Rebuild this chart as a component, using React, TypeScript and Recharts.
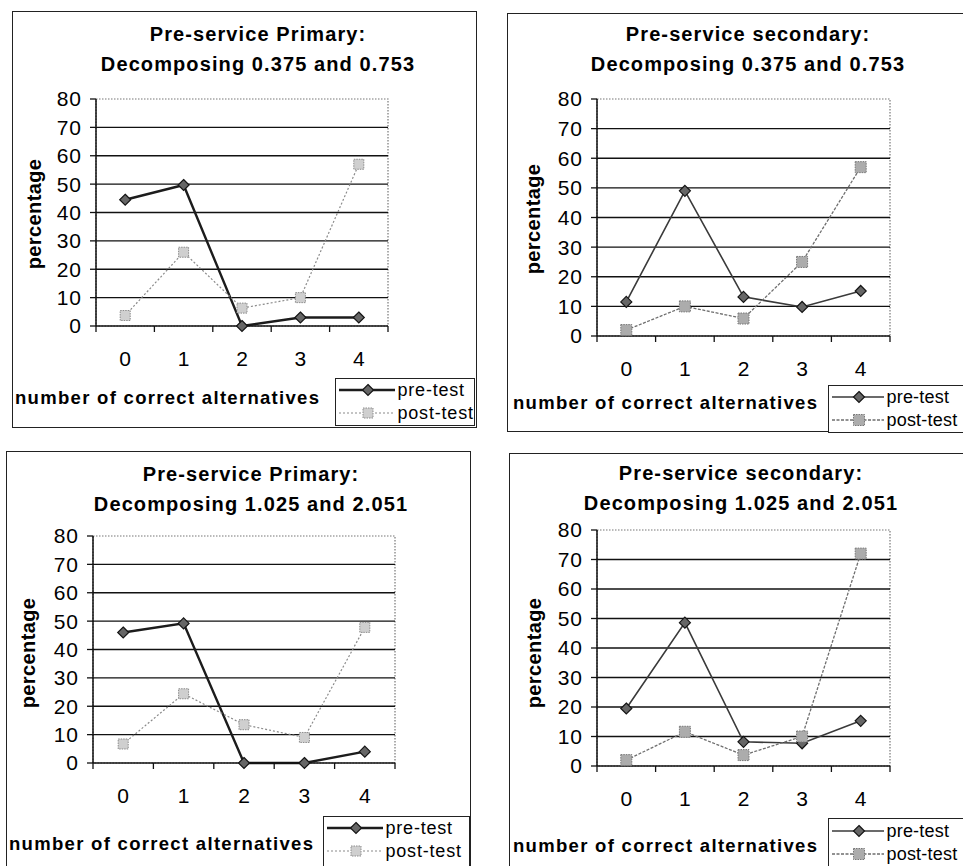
import React from "react";
import {
  Legend,
  Line,
  LineChart,
  ReferenceArea,
  ReferenceLine,
  XAxis,
  YAxis,
} from "recharts";

const FONT = "Arial, 'Liberation Sans', sans-serif";

// number of correct alternatives
const CATEGORIES = ["0", "1", "2", "3", "4"];
const Y_TICKS = [0, 10, 20, 30, 40, 50, 60, 70, 80];
const GRID_VALUES = [10, 20, 30, 40, 50, 60, 70];
const SERIES_NAMES = ["pre-test", "post-test"];

const TITLE_PRIMARY_A = ["Pre-service Primary:", "Decomposing 0.375 and 0.753"];
const TITLE_SECONDARY_A = ["Pre-service secondary:", "Decomposing 0.375 and 0.753"];
const TITLE_PRIMARY_B = ["Pre-service Primary:", "Decomposing 1.025 and 2.051"];
const TITLE_SECONDARY_B = ["Pre-service secondary:", "Decomposing 1.025 and 2.051"];

// percentages
const PRIMARY_A_PRE = [44.5, 49.7, 0, 3, 3];
const PRIMARY_A_POST = [3.7, 26, 6.3, 10, 57];
const SECONDARY_A_PRE = [11.5, 49, 13.2, 9.8, 15.2];
const SECONDARY_A_POST = [2, 10, 5.9, 25, 57];
const PRIMARY_B_PRE = [46, 49.2, 0, 0, 4];
const PRIMARY_B_POST = [6.7, 24.4, 13.5, 9, 47.8];
const SECONDARY_B_PRE = [19.5, 48.6, 8.2, 7.7, 15.3];
const SECONDARY_B_POST = [2, 11.6, 3.7, 10, 72];

const X_TICKS = CATEGORIES.flatMap((_, i) => (i === 0 ? [i - 0.5, i, i + 0.5] : [i, i + 0.5]));

type Box = { x: number; y: number; w: number; h: number };
type PanelProps = {
  title: string[];
  pre: number[];
  post: number[];
  heavy: boolean;
  box: Box;
  plot: { l: number; t: number; r: number; b: number };
  titleX: number;
  titleY: number;
  yLabel: { x: number; y: number };
  xLabel: { x: number; y: number };
  legend: { x: number; y: number; w: number; h: number; rowTop: number; sample: number; spacing: number };
};

const YW = 60;
const XH = 50;

function styleFor(heavy: boolean) {
  return heavy
    ? {
        pre: { stroke: "#1c1c1c", width: 2.4, dash: undefined as string | undefined },
        post: { stroke: "#8a8a8a", width: 1.2, dash: "2 2" as string | undefined },
      }
    : {
        pre: { stroke: "#3a3a3a", width: 1.6, dash: undefined as string | undefined },
        post: { stroke: "#6e6e6e", width: 1.3, dash: "3 1.5" as string | undefined },
      };
}

function diamond(cx: number, cy: number) {
  const r = 5.5;
  return (
    <polygon
      points={`${cx},${cy - r} ${cx + r},${cy} ${cx},${cy + r} ${cx - r},${cy}`}
      fill="#666"
      stroke="#151515"
      strokeWidth={1.2}
    />
  );
}

function square(cx: number, cy: number, heavy: boolean) {
  const r = heavy ? 5 : 5.5;
  return (
    <rect
      x={cx - r}
      y={cy - r}
      width={r * 2}
      height={r * 2}
      fill={heavy ? "#cfcfcf" : "#acacac"}
      stroke={heavy ? "#8c8c8c" : "#777"}
      strokeWidth={1}
      strokeDasharray="1.5 1"
    />
  );
}

function XTick(props: any) {
  const { x, y, payload } = props;
  const v = payload.value as number;
  if (Number.isInteger(v)) {
    return (
      <text x={x} y={y + 34} textAnchor="middle" fontSize={21} fontFamily={FONT} fill="#000">
        {CATEGORIES[v]}
      </text>
    );
  }
  return <line x1={x} x2={x} y1={y - 6} y2={y} stroke="#111" strokeWidth={1.3} />;
}

function Panel(p: PanelProps) {
  const { box, plot } = p;
  const st = styleFor(p.heavy);
  const data = CATEGORIES.map((c, i) => ({ x: i, label: c, pre: p.pre[i], post: p.post[i] }));
  const margin = {
    top: plot.t - box.y,
    right: box.x + box.w - plot.r,
    bottom: box.y + box.h - plot.b - XH,
    left: plot.l - box.x - YW,
  };
  const sw = p.legend.sample;

  const renderLegend = (lp: any) => {
    const items = [...(lp.payload || [])].sort(
      (a: any, b: any) => SERIES_NAMES.indexOf(a.value) - SERIES_NAMES.indexOf(b.value)
    );
    return (
      <div
        style={{
          width: p.legend.w,
          height: p.legend.h,
          boxSizing: "border-box",
          border: "1.5px solid #222",
          background: "#fff",
          paddingTop: p.legend.rowTop,
          fontFamily: FONT,
          fontSize: 18,
          letterSpacing: p.legend.spacing,
          color: "#000",
        }}
      >
        {items.map((item: any) => {
          const isPre = item.dataKey === "pre";
          const s = isPre ? st.pre : st.post;
          return (
            <div key={item.value} style={{ display: "flex", alignItems: "center", height: 23 }}>
              <svg width={sw} height={20} style={{ flex: "none" }}>
                <line x1={3} x2={sw - 3} y1={10} y2={10} stroke={s.stroke} strokeWidth={s.width} strokeDasharray={s.dash} />
                {isPre ? diamond(sw / 2 + 1, 10) : square(sw / 2 + 1, 10, p.heavy)}
              </svg>
              <span style={{ whiteSpace: "nowrap", lineHeight: "20px" }}>{item.value}</span>
            </div>
          );
        })}
      </div>
    );
  };

  return (
    <div
      style={{
        position: "absolute",
        left: box.x,
        top: box.y,
        width: box.w,
        height: box.h,
        boxSizing: "border-box",
        border: "1.5px solid #222",
        background: "#fff",
      }}
    >
      <div style={{ position: "absolute", left: -1.5, top: -1.5 }}>
        <LineChart width={box.w} height={box.h} data={data} margin={margin}>
          <XAxis
            dataKey="x"
            type="number"
            domain={[-0.5, CATEGORIES.length - 0.5]}
            ticks={X_TICKS}
            interval={0}
            height={XH}
            tickLine={false}
            tickSize={6}
            tickMargin={0}
            axisLine={{ stroke: "#111", strokeWidth: 1.5 }}
            tick={<XTick />}
          />
          <YAxis
            type="number"
            domain={[0, 80]}
            ticks={Y_TICKS}
            interval={0}
            width={YW}
            tickSize={6}
            tickMargin={8}
            tickLine={{ stroke: "#111", strokeWidth: 1.3 }}
            axisLine={{ stroke: "#111", strokeWidth: 1.5 }}
            tick={{ fontSize: 21, fontFamily: FONT, fill: "#000", letterSpacing: 1 }}
          />
          <ReferenceArea
            x1={-0.5}
            x2={CATEGORIES.length - 0.5}
            y1={0}
            y2={80}
            fill="none"
            fillOpacity={0}
            stroke="#777"
            strokeDasharray="1.5 1.5"
            strokeWidth={1.2}
          />
          {GRID_VALUES.map((v) => (
            <ReferenceLine key={v} y={v} stroke="#111" strokeWidth={1.3} />
          ))}
          <Legend
            layout="vertical"
            align="center"
            verticalAlign="middle"
            content={renderLegend}
            wrapperStyle={{
              position: "absolute",
              left: p.legend.x - box.x,
              top: p.legend.y - box.y,
              width: p.legend.w,
              height: p.legend.h,
            }}
          />
          <Line
            type="linear"
            dataKey="pre"
            name={SERIES_NAMES[0]}
            stroke={st.pre.stroke}
            strokeWidth={st.pre.width}
            dot={(d: any) => <g key={`pre-${d.index}`}>{diamond(d.cx, d.cy)}</g>}
            activeDot={false}
            isAnimationActive={false}
          />
          <Line
            type="linear"
            dataKey="post"
            name={SERIES_NAMES[1]}
            stroke={st.post.stroke}
            strokeWidth={st.post.width}
            strokeDasharray={st.post.dash}
            dot={(d: any) => <g key={`post-${d.index}`}>{square(d.cx, d.cy, p.heavy)}</g>}
            activeDot={false}
            isAnimationActive={false}
          />
        </LineChart>
      </div>

      <div
        style={{
          position: "absolute",
          left: p.titleX - box.x - 250,
          top: p.titleY - box.y - 15,
          width: 500,
          textAlign: "center",
          fontFamily: FONT,
          fontWeight: "bold",
          fontSize: 20,
          lineHeight: "30px",
          letterSpacing: 1.1,
          whiteSpace: "nowrap",
        }}
      >
        {p.title.map((t) => (
          <div key={t}>{t}</div>
        ))}
      </div>

      <div
        style={{
          position: "absolute",
          left: p.yLabel.x - box.x,
          top: p.yLabel.y - box.y,
          transform: "translate(-50%, -50%) rotate(-90deg)",
          fontFamily: FONT,
          fontWeight: "bold",
          fontSize: 20,
          letterSpacing: 0.4,
          whiteSpace: "nowrap",
          lineHeight: "22px",
        }}
      >
        percentage
      </div>

      <div
        style={{
          position: "absolute",
          left: p.xLabel.x - box.x,
          top: p.xLabel.y - box.y - 11,
          fontFamily: FONT,
          fontWeight: "bold",
          fontSize: 18.5,
          letterSpacing: 1.3,
          lineHeight: "22px",
          whiteSpace: "nowrap",
        }}
      >
        number of correct alternatives
      </div>
    </div>
  );
}

const PANELS: PanelProps[] = [
  {
    title: TITLE_PRIMARY_A,
    pre: PRIMARY_A_PRE,
    post: PRIMARY_A_POST,
    heavy: true,
    box: { x: 12, y: 11, w: 465, h: 417 },
    plot: { l: 96, t: 99, r: 388, b: 326 },
    titleX: 257,
    titleY: 33,
    yLabel: { x: 33, y: 213 },
    xLabel: { x: 14, y: 397 },
    legend: { x: 335, y: 378, w: 140, h: 48, rowTop: 0, sample: 62, spacing: 0.8 },
  },
  {
    title: TITLE_SECONDARY_A,
    pre: SECONDARY_A_PRE,
    post: SECONDARY_A_POST,
    heavy: false,
    box: { x: 507, y: 13, w: 470, h: 419 },
    plot: { l: 597, t: 99, r: 890, b: 336 },
    titleX: 747,
    titleY: 33,
    yLabel: { x: 532, y: 218 },
    xLabel: { x: 512, y: 402 },
    legend: { x: 828, y: 385, w: 150, h: 48, rowTop: 0, sample: 58, spacing: 0.2 },
  },
  {
    title: TITLE_PRIMARY_B,
    pre: PRIMARY_B_PRE,
    post: PRIMARY_B_POST,
    heavy: true,
    box: { x: 6, y: 451, w: 465, h: 430 },
    plot: { l: 93, t: 536, r: 395, b: 763 },
    titleX: 250,
    titleY: 473,
    yLabel: { x: 27, y: 652 },
    xLabel: { x: 8, y: 843 },
    legend: { x: 323, y: 816, w: 147, h: 60, rowTop: 0, sample: 62, spacing: 0.8 },
  },
  {
    title: TITLE_SECONDARY_B,
    pre: SECONDARY_B_PRE,
    post: SECONDARY_B_POST,
    heavy: false,
    box: { x: 509, y: 453, w: 468, h: 430 },
    plot: { l: 597, t: 530, r: 890, b: 766 },
    titleX: 740,
    titleY: 472,
    yLabel: { x: 533, y: 652 },
    xLabel: { x: 512, y: 845 },
    legend: { x: 828, y: 818, w: 150, h: 60, rowTop: 1, sample: 58, spacing: 0.2 },
  },
];

export default function App() {
  return (
    <div
      style={{
        position: "absolute",
        left: 0,
        top: 0,
        width: 963,
        height: 866,
        overflow: "hidden",
        background: "#fff",
      }}
    >
      {PANELS.map((p, i) => (
        <Panel key={i} {...p} />
      ))}
    </div>
  );
}
